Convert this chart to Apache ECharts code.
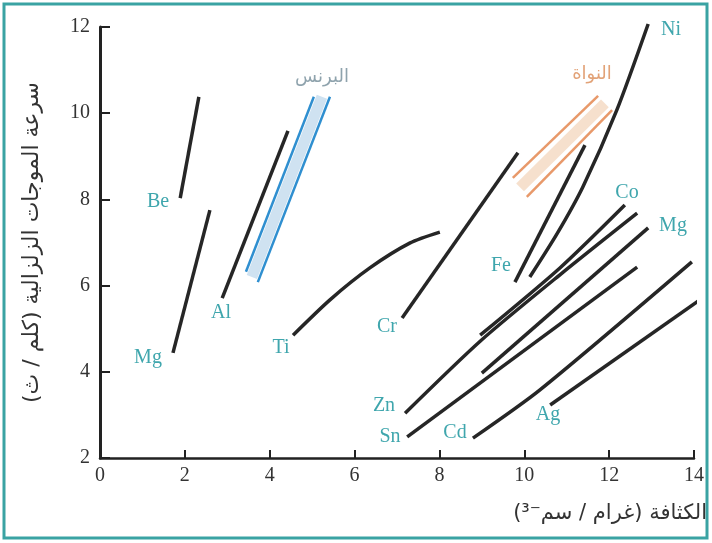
<!DOCTYPE html>
<html><head><meta charset="utf-8">
<script src="https://cdn.jsdelivr.net/npm/echarts@6/dist/echarts.min.js"></script>
<style>html,body{margin:0;padding:0;background:#fff}#c{width:712px;height:543px}</style>
</head><body><div id="c"></div>
<script>
// x = density (g/cm3), y = seismic wave speed (km/s)
const xTicks = [0,2,4,6,8,10,12,14];
const yTicks = [2,4,6,8,10,12];
const be  = [[1.89,8.03],[2.33,10.38]];
const mgL = [[1.72,4.44],[2.59,7.75]];
const al  = [[2.88,5.71],[4.43,9.59]];
const ti  = [[4.55,4.85],[5.42,5.67],[6.36,6.41],[7.31,6.99],[8.01,7.24]];
const cr  = [[7.12,5.25],[9.85,9.08]];
const fe  = [[9.78,6.08],[11.43,9.26]];
const ni  = [[10.13,6.20],[10.77,7.20],[11.38,8.29],[12.18,10.07],[12.92,12.07]];
const co  = [[8.96,4.85],[10.84,6.41],[12.37,7.87]];
const zn  = [[7.19,3.04],[8.96,4.71],[10.84,6.25],[12.66,7.68]];
const mgR = [[9.00,3.97],[12.92,7.34]];
const sn  = [[7.24,2.49],[12.66,6.43]];
const cd  = [[8.79,2.46],[10.37,3.58],[13.95,6.55]];
const ag  = [[10.61,3.23],[14.14,5.67]];
// bands: mantle (البرنس) and core (النواة)
const mantleA = [[3.44,6.32],[5.04,10.38]];
const mantleB = [[3.72,6.08],[5.42,10.38]];
const mantleC = [[3.58,6.20],[5.23,10.38]];
const coreA = [[9.73,8.50],[11.74,10.40]];
const coreB = [[10.06,8.06],[12.07,10.07]];
const coreC = [[9.90,8.28],[11.90,10.23]];

const chart = echarts.init(document.getElementById('c'));
const blk = '#262626';
function metal(name, d){
  return {name, type:'line', data:d, symbol:'none', smooth:d.length>2?0.25:false, clip:false, z:5,
    lineStyle:{color:blk, width:3.5}};
}
function band(d, color, w, z){
  return {type:'line', data:d, symbol:'none', clip:false, z:z, lineStyle:{color:color, width:w}};
}
const teal = '#3fa6ad';
const serif = '"Liberation Serif","DejaVu Serif",serif';
const labels = [
  ['Be',158,202],['Mg',148,358],['Al',221,313],['Ti',281,348],['Cr',387,327],
  ['Fe',501,266],['Co',627,193],['Mg',673,226],['Ni',671,30],['Zn',384,406],
  ['Sn',390,437],['Cd',455,433],['Ag',548,415]
];
const graphics = labels.map(l => ({type:'text', x:l[1], y:l[2], z:10,
  style:{text:l[0], fill:teal, font:'20px '+serif, align:'center', verticalAlign:'middle'}}));
graphics.push({type:'text', x:322, y:77, z:10, style:{text:'البرنس', fill:'#8fa3ad', font:'18px "DejaVu Sans"', align:'center', verticalAlign:'middle'}});
graphics.push({type:'text', x:592, y:74, z:10, style:{text:'النواة', fill:'#e2a277', font:'18px "DejaVu Sans"', align:'center', verticalAlign:'middle'}});
graphics.push({type:'text', x:707, y:514, z:10, style:{text:'الكثافة (غرام / سم⁻³)', fill:'#333', font:'21px "DejaVu Sans"', align:'right', verticalAlign:'middle'}});
graphics.push({type:'rect', shape:{x:4,y:4,width:703,height:534}, z:0, style:{fill:null, stroke:'#3aa3a3', lineWidth:3}});

chart.setOption({
  animation:false,
  backgroundColor:'#ffffff',
  grid:{left:100, right:18, top:27, bottom:85},
  xAxis:{type:'value', min:xTicks[0], max:xTicks[xTicks.length-1], interval:2,
    axisLine:{lineStyle:{color:'#222', width:2.5}},
    axisTick:{inside:true, length:8, lineStyle:{color:'#222', width:2}},
    axisLabel:{color:'#333', fontSize:20, fontFamily:serif, margin:8},
    splitLine:{show:false}},
  yAxis:{type:'value', min:yTicks[0], max:yTicks[yTicks.length-1], interval:2,
    name:'سرعة الموجات الزلزالية (كلم / ث)', nameLocation:'middle', nameGap:57,
    nameTextStyle:{color:'#333', fontSize:22, fontFamily:'DejaVu Sans'},
    axisLine:{lineStyle:{color:'#222', width:3}},
    axisTick:{inside:true, length:10, lineStyle:{color:'#222', width:2}},
    axisLabel:{color:'#333', fontSize:20, fontFamily:serif, margin:10},
    splitLine:{show:false}},
  graphic:graphics,
  series:[
    band(mantleC,'#cfe2f1',11,2), band(mantleA,'#2f8fd0',2.5,3), band(mantleB,'#2f8fd0',2.5,3),
    band(coreC,'#f6e0cd',11,2), band(coreA,'#e8996a',2.5,3), band(coreB,'#e8996a',2.5,3),
    metal('Be',be), metal('Mg',mgL), metal('Al',al), metal('Ti',ti), metal('Cr',cr),
    metal('Fe',fe), metal('Ni',ni), metal('Co',co), metal('Zn',zn), metal('Mg2',mgR),
    metal('Sn',sn), metal('Cd',cd), metal('Ag',ag)
  ]
});
</script></body></html>
